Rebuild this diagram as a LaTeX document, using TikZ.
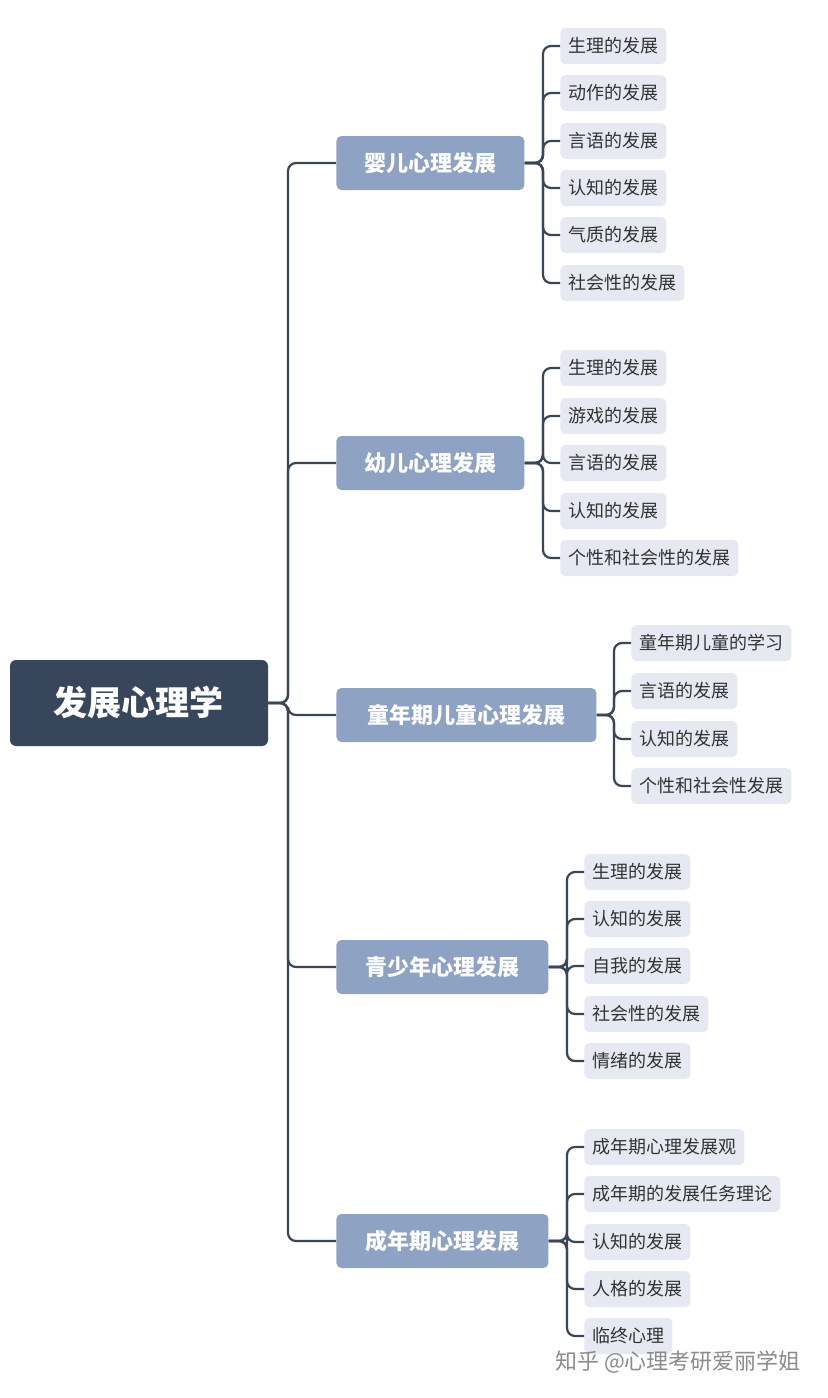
\documentclass[tikz,border=0pt]{standalone}
\usepackage{fontspec}
\setmainfont{Noto Sans CJK SC}
\definecolor{rootc}{HTML}{37465B}
\definecolor{topc}{HTML}{8EA2C3}
\definecolor{leafc}{HTML}{E6E9F1}
\definecolor{linec}{HTML}{3A4556}
\tikzset{
  root/.style={fill=rootc,text=white,rounded corners=3pt,minimum width=129pt,minimum height=43pt,font=\fontsize{17}{20}\selectfont\bfseries},
  topic/.style={fill=topc,text=white,rounded corners=2.5pt,anchor=west,minimum height=27pt,inner xsep=12pt,font=\fontsize{11}{13}\selectfont\bfseries},
  leaf/.style={fill=leafc,text=black!80,rounded corners=2.5pt,anchor=west,minimum height=18pt,inner xsep=4pt,font=\fontsize{9}{11}\selectfont},
  link/.style={draw=linec,line width=1.1pt,rounded corners=4pt}
}
\begin{document}
\begin{tikzpicture}[x=0.5pt,y=-0.5pt]
\useasboundingbox[fill=white] (0,0) rectangle (828,1398);
\node[root] (r) at (139,703) {发展心理学};
\node[topic,minimum width=94pt] (t1) at (336,163) {婴儿心理发展};
\node[topic,minimum width=94pt] (t2) at (336,463) {幼儿心理发展};
\node[topic,minimum width=130pt] (t3) at (336,715) {童年期儿童心理发展};
\node[topic,minimum width=106pt] (t4) at (336,967) {青少年心理发展};
\node[topic,minimum width=106pt] (t5) at (336,1241) {成年期心理发展};
\foreach \i in {1,...,5}
  \draw[link] (r.east) -- (288,703) |- (t\i.west);
% group 1
\foreach \y/\t [count=\n] in {46/生理的发展,93/动作的发展,141/言语的发展,188/认知的发展,235/气质的发展,283/社会性的发展}{
  \node[leaf] (a\n) at (560,\y) {\t};
  \draw[link] (t1.east) -- (543,163) |- (a\n.west);
}
% group 2
\foreach \y/\t [count=\n] in {368/生理的发展,416/游戏的发展,463/言语的发展,511/认知的发展,558/个性和社会性的发展}{
  \node[leaf] (b\n) at (560,\y) {\t};
  \draw[link] (t2.east) -- (543,463) |- (b\n.west);
}
% group 3
\foreach \y/\t [count=\n] in {643/童年期儿童的学习,691/言语的发展,739/认知的发展,786/个性和社会性发展}{
  \node[leaf] (c\n) at (631,\y) {\t};
  \draw[link] (t3.east) -- (614,715) |- (c\n.west);
}
% group 4
\foreach \y/\t [count=\n] in {872/生理的发展,919/认知的发展,966/自我的发展,1014/社会性的发展,1061/情绪的发展}{
  \node[leaf] (d\n) at (584,\y) {\t};
  \draw[link] (t4.east) -- (567,967) |- (d\n.west);
}
% group 5
\foreach \y/\t [count=\n] in {1147/成年期心理发展观,1194/成年期的发展任务理论,1242/认知的发展,1289/人格的发展,1336/临终心理}{
  \node[leaf] (e\n) at (584,\y) {\t};
  \draw[link] (t5.east) -- (567,1241) |- (e\n.west);
}
\node[text=black!45,font=\fontsize{11}{13}\selectfont,anchor=east] (wm) at (808,1362) {知乎 @心理考研爱丽学姐};
\end{tikzpicture}
\end{document}
